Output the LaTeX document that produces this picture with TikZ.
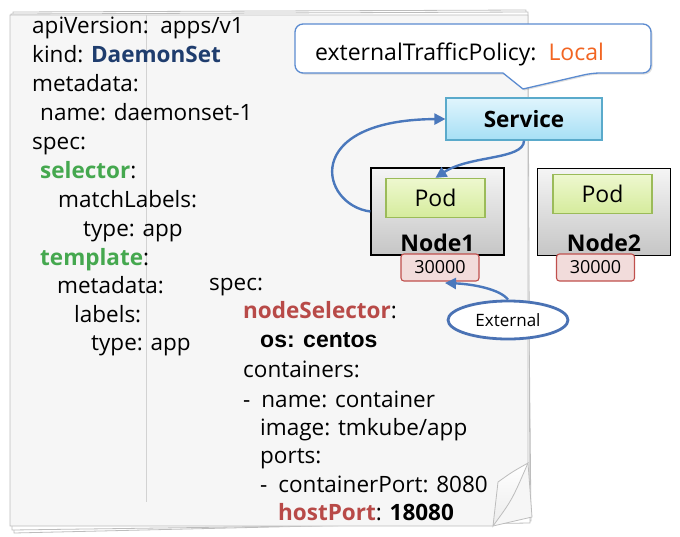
\documentclass[tikz,border=0pt]{standalone}
\usepackage{fontspec}
\setmainfont{Open Sans}
\newfontfamily\arialf{Liberation Sans}
\usetikzlibrary{arrows.meta,shapes.geometric,shadows}
\definecolor{arrowblue}{HTML}{4A78BC}
\definecolor{dsblue}{HTML}{1F3D6E}
\definecolor{selgreen}{HTML}{45A84F}
\definecolor{nsred}{HTML}{B84A48}
\definecolor{localor}{HTML}{F26522}
\definecolor{pagefill}{HTML}{F6F6F6}
\definecolor{pageline}{HTML}{BDBDBD}
\definecolor{callline}{HTML}{5B8BD0}
\definecolor{svcline}{HTML}{5AAACB}
\definecolor{svctop}{HTML}{E0F5FD}
\definecolor{svcbot}{HTML}{A6DFF5}
\definecolor{podline}{HTML}{9BBB59}
\definecolor{podtop}{HTML}{EEF8CF}
\definecolor{podbot}{HTML}{D5EB9C}
\definecolor{porttop}{HTML}{F2DCDB}
\definecolor{portline}{HTML}{C0504D}
\definecolor{extline}{HTML}{4A72B4}
\tikzset{
  yaml/.style={anchor=base west,inner sep=0pt,font=\fontsize{22.5}{29}\selectfont},
  svcbox/.style={draw=svcline,line width=1.2pt,top color=svctop,bottom color=svcbot,
    minimum width=156pt,minimum height=42pt,inner sep=0pt,
    font=\fontsize{22.5}{25}\selectfont\bfseries},
  nodebox/.style={draw=black,line width=1.3pt,top color=gray!8,bottom color=gray!45,
    minimum width=133pt,minimum height=87pt,inner sep=0pt},
  podbox/.style={draw=podline,line width=1.3pt,top color=podtop,bottom color=podbot,
    minimum width=99pt,minimum height=39pt,inner sep=0pt,
    font=\fontsize{23}{25}\selectfont},
  nodelabel/.style={anchor=base,inner sep=0pt,font=\fontsize{23}{25}\selectfont\bfseries},
  portbox/.style={draw=portline,line width=1.1pt,fill=porttop,rounded corners=3pt,
    minimum width=78pt,minimum height=27pt,inner sep=0pt,
    font=\fontsize{18}{20}\selectfont},
  extell/.style={ellipse,draw=extline,line width=2.8pt,fill=white,
    minimum width=120pt,minimum height=38pt,inner sep=0pt,
    font=\fontsize{17}{20}\selectfont},
  flow/.style={draw=arrowblue,line width=2.4pt,
    -{Triangle[length=11pt,width=11pt]}},
}
\begin{document}
\begin{tikzpicture}[x=1pt,y=-1pt]
\useasboundingbox (0,0) rectangle (680,536);
% back sheets
\draw[pageline,fill=white,line width=0.8pt] (13,12) -- (526,10) -- (531,521) -- (14,533) -- cycle;
\draw[pageline,fill=white,line width=0.8pt] (11,14) -- (528,12) -- (530,523) -- (12,530) -- cycle;
% main page
\draw[pageline,fill=pagefill,line width=0.8pt] (10,15) -- (528,15) -- (528,463)
   .. controls (530,490) .. (532,517) -- (493,526) -- (10,526) -- cycle;
\draw[pageline,line width=0.8pt,top color=white,bottom color=gray!15]
   (528,463) .. controls (512,472) .. (498,482) -- (493,526)
   .. controls (512,500) .. (528,463) -- cycle;
\draw[gray!35,line width=0.8pt] (146,15) -- (146,502);
% yaml left
\node[yaml] (l1) at (32,33) {apiVersion:\ \ apps/v1};
\node[yaml] (l2) at (32,62) {kind: \textbf{\color{dsblue}DaemonSet}};
\node[yaml] (l3) at (32,91) {metadata:};
\node[yaml] (l4) at (40,120) {name: daemonset-1};
\node[yaml] (l5) at (32,149) {spec:};
\node[yaml] (l6) at (40,178) {\textbf{\color{selgreen}selector}:};
\node[yaml] (l7) at (58,207) {matchLabels:};
\node[yaml] (l8) at (83,236) {type: app};
\node[yaml] (l9) at (40,265) {\textbf{\color{selgreen}template}:};
\node[yaml] (l10) at (57,293) {metadata:};
\node[yaml] (l11) at (74,322) {labels:};
\node[yaml] (l12) at (91,350) {type: app};
% yaml right
\node[yaml] (r1) at (209,290) {spec:};
\node[yaml] (r2) at (243,318) {\textbf{\color{nsred}nodeSelector}:};
\node[yaml] (r3) at (260,347) {\fontsize{23}{29}\selectfont\arialf\bfseries os: centos};
\node[yaml] (r4) at (243,377) {containers:};
\node[yaml] (r5) at (243,407) {-\hspace{11pt}name: container};
\node[yaml] (r6) at (260,435) {image: tmkube/app};
\node[yaml] (r7) at (260,463) {ports:};
\node[yaml] (r8) at (260,492) {-\hspace{11pt}containerPort: 8080};
\node[yaml] (r9) at (278,520) {\textbf{\color{nsred}hostPort}: \textbf{18080}};
% callout
\path[draw=callline,fill=white,line width=1.3pt,rounded corners=8pt,
  drop shadow={shadow xshift=1.5pt,shadow yshift=-1.5pt,opacity=0.25}]
  (295,24) -- (651,24) -- (651,73) -- (592,73) [sharp corners] -- (523,89) -- (503,73)
  [rounded corners=8pt] -- (295,73) -- cycle;
\node[yaml,font=\fontsize{23}{25}\selectfont] (policy) at (315,60)
  {externalTrafficPolicy:\ \ \color{localor}Local};
% cluster
\node[svcbox] (service) at (524,119) {Service};
\node[nodebox] (node1) at (437.5,211.5) {};
\node[nodebox] (node2) at (604,212) {};
\node[podbox] (pod1) at (435.5,198) {Pod};
\node[podbox] (pod2) at (602.5,194) {Pod};
\node[nodelabel] (n1lab) at (437.5,251) {Node1};
\node[nodelabel] (n2lab) at (604,251) {Node2};
\node[portbox] (port1) at (440,267.5) {30000};
\node[portbox] (port2) at (595.5,267.5) {30000};
\node[extell] (external) at (508,320) {External};
\coordinate (porttip) at (445,283);
% connectors
\draw[flow] (node1.west) .. controls (320,205) and (300,120) .. (service.west);
\draw[flow] (service.south) .. controls (524,160) and (470,155) .. (pod1.north);
\draw[flow] (external.north) .. controls (500,289) and (472,284) .. (porttip);
\end{tikzpicture}
\end{document}
